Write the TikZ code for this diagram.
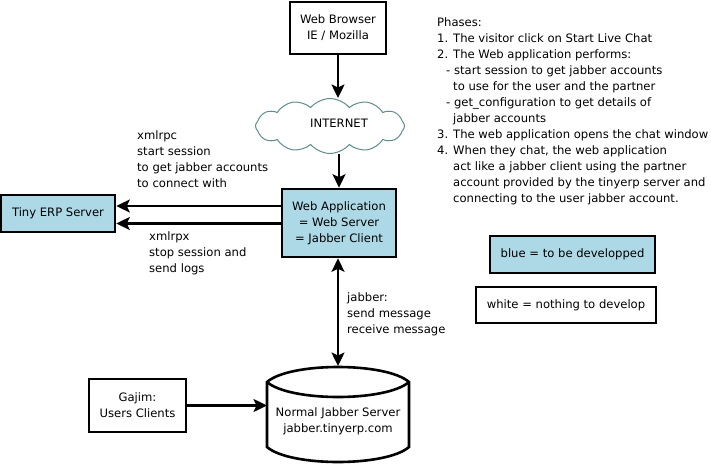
\documentclass[tikz,border=0pt]{standalone}
\usepackage{fontspec}
\setmainfont{DejaVu Sans}
\usetikzlibrary{shapes.symbols,arrows.meta}
\definecolor{devblue}{RGB}{173,216,230}
\definecolor{cloudline}{RGB}{95,140,140}
\begin{document}
\begin{tikzpicture}[x=1pt,y=-1pt,
 font=\fontsize{11.6}{16}\selectfont,
 box/.style={draw,line width=2.6pt,rectangle,align=center,inner sep=0pt,fill=white},
 devbox/.style={box,fill=devblue},
 tip/.tip={Stealth[length=13.5pt,width=13pt,inset=3pt]},
 arr/.style={line width=2.2pt,-tip},
 darr/.style={line width=2.2pt,tip-tip},
 lbl/.style={align=left,inner sep=0pt,anchor=west}]
\useasboundingbox (0,0) rectangle (711,465);
% nodes
\node[box,minimum width=96pt,minimum height=52pt] (browser) at (338,28) {Web Browser\\IE / Mozilla};
\node[cloud,draw=cloudline,line width=1pt,fill=white,cloud puffs=12,cloud puff arc=100,aspect=2.7,minimum width=149pt,minimum height=55pt,inner sep=0pt] (cloud) at (330,126) {};
\node[inner sep=0pt] (inet) at (339,123) {INTERNET};
\node[devbox,minimum width=114pt,minimum height=68pt] (webapp) at (339,223) {Web Application\\= Web Server\\= Jabber Client};
\node[devbox,minimum width=114pt,minimum height=37pt] (erp) at (58,213.5) {Tiny ERP Server};
\node[box,minimum width=97pt,minimum height=53pt] (gajim) at (137.5,405.5) {Gajim:\\Users Clients};
% jabber server shape
\draw[line width=2.6pt,fill=white] (267,382) .. controls (290,362) and (386,362) .. (409,382) -- (409,447) .. controls (386,467) and (290,467) .. (267,447) -- cycle;
\draw[line width=2.6pt] (267,382) .. controls (290,402) and (386,402) .. (409,382);
\node[align=center,inner sep=0pt] (jserver) at (338,421) {Normal Jabber Server\\jabber.tinyerp.com};
\coordinate (jtop) at (338,366);
\coordinate (jwest) at (267,405.5);
% labels
\node[lbl] (xmlrpc) at (137,159.5) {xmlrpc\\start session\\to get jabber accounts\\to connect with};
\node[lbl] (xmlrpx) at (149,253) {xmlrpx\\stop session and\\send logs};
\node[lbl] (jlbl) at (347,314) {jabber:\\send message\\receive message};
\node[align=left,inner sep=0pt,anchor=north west] (phases) at (437,17.3) {Phases:\\
1. The visitor click on Start Live Chat\\
2. The Web application performs:\\
\hspace*{9pt}- start session to get jabber accounts\\
\hspace*{16pt}to use for the user and the partner\\
\hspace*{9pt}- get\_configuration to get details of\\
\hspace*{16pt}jabber accounts\\
3. The web application opens the chat window\\
4. When they chat, the web application\\
\hspace*{16pt}act like a jabber client using the partner\\
\hspace*{16pt}account provided by the tinyerp server and\\
\hspace*{16pt}connecting to the user jabber account.};
\node[devbox,minimum width=165pt,minimum height=37pt] (legblue) at (572.5,254.5) {blue = to be developped};
\node[box,minimum width=180pt,minimum height=36pt] (legwhite) at (566,305) {white = nothing to develop};
% connectors
\draw[arr] (browser.south) -- (browser.south |- cloud.north);
\draw[arr] (webapp.north |- cloud.south) -- (webapp.north);
\draw[arr] (webapp.west |- 0,206) -- (erp.east |- 0,206);
\draw[arr] (webapp.west |- 0,223.5) -- (erp.east |- 0,223.5);
\draw[darr] (jtop |- webapp.south) -- (jtop);
\draw[arr] (gajim.east) -- (jwest);
\end{tikzpicture}
\end{document}
